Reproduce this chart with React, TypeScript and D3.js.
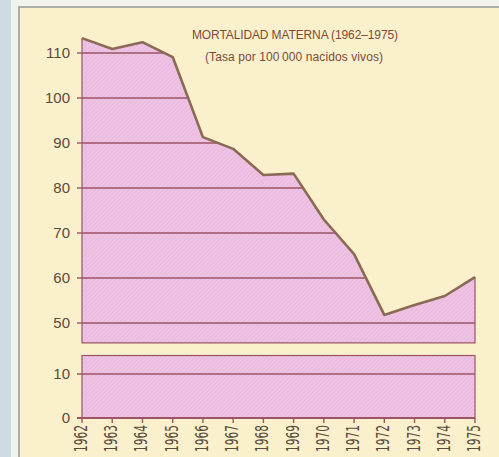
import React, { useEffect, useRef } from 'react';
import * as d3 from 'd3';

// values
const years = [1962, 1963, 1964, 1965, 1966, 1967, 1968, 1969, 1970, 1971, 1972, 1973, 1974, 1975];
const rates = [113.3, 110.9, 112.4, 109.1, 91.3, 88.7, 82.9, 83.2, 73.0, 65.3, 51.8, 54.0, 56.0, 60.2];
const upperTicks = [50, 60, 70, 80, 90, 100, 110];
const lowerTicks = [0, 10];
const titleLines = ['MORTALIDAD MATERNA (1962\u20131975)', '(Tasa por 100\u2009000 nacidos vivos)'];

const W = 499;
const H = 457;

export default function App() {
  const svgRef = useRef<SVGSVGElement>(null);

  useEffect(() => {
    if (!svgRef.current) return;
    const svg = d3.select(svgRef.current);
    svg.selectAll('*').remove();

    const x = d3.scaleLinear().domain([1962, 1975]).range([82, 475]);
    const yTop = d3.scaleLinear().domain([50, 110]).range([323, 53]);
    const yBot = d3.scaleLinear().domain([0, 10]).range([418, 374]);
    const upperFloor = 45.6;
    const lowerCeil = 14.2;

    const gridColor = '#9c5466';
    const lineColor = '#8a6a55';
    const labelColor = '#5a4a3e';

    // hatch pattern for the pink fill
    const defs = svg.append('defs');
    const pat = defs.append('pattern')
      .attr('id', 'hatch')
      .attr('patternUnits', 'userSpaceOnUse')
      .attr('width', 3)
      .attr('height', 3)
      .attr('patternTransform', 'rotate(45)');
    pat.append('rect').attr('width', 3).attr('height', 3).attr('fill', '#eec3e4');
    pat.append('line')
      .attr('x1', 0).attr('y1', 0).attr('x2', 0).attr('y2', 3)
      .attr('stroke', '#e2b0d6').attr('stroke-width', 1);

    // page background + frame
    svg.append('rect').attr('width', W).attr('height', H).attr('fill', '#f3f3ee');
    svg.append('rect').attr('x', 0).attr('y', 0).attr('width', 11).attr('height', H).attr('fill', '#cfdbe4');
    svg.append('rect').attr('x', 19).attr('y', 7).attr('width', W).attr('height', H)
      .attr('fill', '#faf0cb').attr('stroke', '#8e9a96').attr('stroke-width', 1.5);

    // upper area
    const area = d3.area<number>()
      .x((_d, i) => x(years[i]))
      .y0(yTop(upperFloor))
      .y1((d) => yTop(d));
    const areaPath = area(rates) || '';

    defs.append('clipPath').attr('id', 'areaClip')
      .append('path').attr('d', areaPath);

    svg.append('path').attr('d', areaPath).attr('fill', 'url(#hatch)');

    // gridlines clipped to the area
    svg.append('g').attr('clip-path', 'url(#areaClip)')
      .selectAll('line').data(upperTicks).enter().append('line')
      .attr('x1', x(1962)).attr('x2', x(1975))
      .attr('y1', (d) => yTop(d)).attr('y2', (d) => yTop(d))
      .attr('stroke', gridColor).attr('stroke-width', 1.4);

    // upper ticks + labels
    svg.append('g').selectAll('line').data(upperTicks).enter().append('line')
      .attr('x1', 77).attr('x2', 82)
      .attr('y1', (d) => yTop(d)).attr('y2', (d) => yTop(d))
      .attr('stroke', gridColor).attr('stroke-width', 1.4);
    svg.append('g').selectAll('text').data(upperTicks).enter().append('text')
      .attr('x', 70).attr('y', (d) => yTop(d) + 5)
      .attr('text-anchor', 'end')
      .attr('font-family', 'Liberation Sans, Arial, sans-serif')
      .attr('font-size', 15)
      .attr('fill', labelColor)
      .text((d) => d);

    // upper panel sides and bottom
    svg.append('path')
      .attr('d', `M${x(1962)},${yTop(rates[0])}V${yTop(upperFloor)}H${x(1975)}V${yTop(rates[rates.length - 1])}`)
      .attr('fill', 'none').attr('stroke', gridColor).attr('stroke-width', 1.2);

    // top line of the area
    const line = d3.line<number>()
      .x((_d, i) => x(years[i]))
      .y((d) => yTop(d));
    svg.append('path').attr('d', line(rates) || '')
      .attr('fill', 'none').attr('stroke', lineColor).attr('stroke-width', 2.6)
      .attr('stroke-linejoin', 'round');

    // lower panel
    svg.append('rect')
      .attr('x', x(1962)).attr('y', yBot(lowerCeil))
      .attr('width', x(1975) - x(1962)).attr('height', yBot(0) - yBot(lowerCeil))
      .attr('fill', 'url(#hatch)').attr('stroke', gridColor).attr('stroke-width', 1.2);
    svg.append('g').selectAll('line').data(lowerTicks).enter().append('line')
      .attr('x1', 77).attr('x2', x(1975))
      .attr('y1', (d) => yBot(d)).attr('y2', (d) => yBot(d))
      .attr('stroke', gridColor).attr('stroke-width', (d) => (d === 0 ? 1.8 : 1.4));
    svg.append('g').selectAll('text').data(lowerTicks).enter().append('text')
      .attr('x', 70).attr('y', (d) => yBot(d) + 5)
      .attr('text-anchor', 'end')
      .attr('font-family', 'Liberation Sans, Arial, sans-serif')
      .attr('font-size', 15)
      .attr('fill', labelColor)
      .text((d) => d);

    // x ticks + rotated year labels
    svg.append('g').selectAll('line').data(years).enter().append('line')
      .attr('x1', (d) => x(d)).attr('x2', (d) => x(d))
      .attr('y1', yBot(0)).attr('y2', yBot(0) + 5)
      .attr('stroke', gridColor).attr('stroke-width', 1.4);
    svg.append('g').selectAll('text').data(years).enter().append('text')
      .attr('transform', (d) => `translate(${x(d) + 5},${425}) rotate(-90)`)
      .attr('text-anchor', 'end')
      .attr('font-family', 'Liberation Sans Narrow, DejaVu Sans Condensed, sans-serif')
      .attr('font-size', 17)
      .attr('textLength', 27)
      .attr('lengthAdjust', 'spacingAndGlyphs')
      .attr('fill', labelColor)
      .text((d) => d);

    // title
    svg.append('text')
      .attr('x', 295).attr('y', 39)
      .attr('text-anchor', 'middle')
      .attr('font-family', 'Liberation Sans, Arial, sans-serif')
      .attr('font-size', 12)
      .attr('textLength', 206)
      .attr('lengthAdjust', 'spacing')
      .attr('fill', '#7e4a3c')
      .text(titleLines[0]);
    svg.append('text')
      .attr('x', 294).attr('y', 61)
      .attr('text-anchor', 'middle')
      .attr('font-family', 'Liberation Sans, Arial, sans-serif')
      .attr('font-size', 12)
      .attr('textLength', 178)
      .attr('lengthAdjust', 'spacing')
      .attr('fill', '#7e4a3c')
      .text(titleLines[1]);
  }, []);

  return (
    <svg
      ref={svgRef}
      width={W}
      height={H}
      style={{ position: 'absolute', left: 0, top: 0, display: 'block' }}
    />
  );
}
